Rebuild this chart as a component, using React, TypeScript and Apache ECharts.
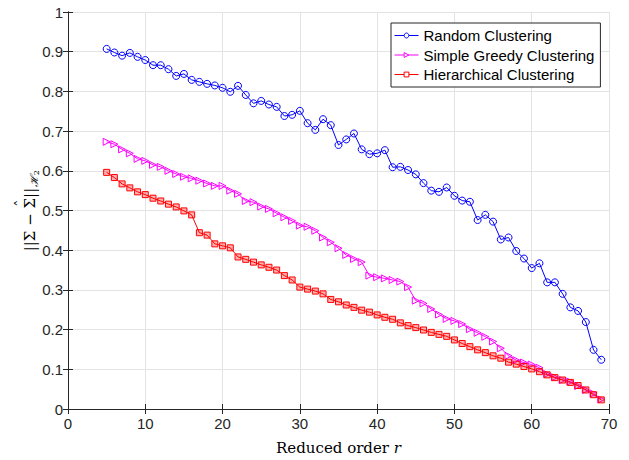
import React, { useEffect, useRef } from "react";
import * as echarts from "echarts";

const orders: number[] = [];
for (let r = 5; r <= 69; r++) orders.push(r);

const randomVals = [
  0.907, 0.898, 0.890, 0.897, 0.887, 0.879, 0.866, 0.866, 0.856, 0.839,
  0.844, 0.829, 0.824, 0.819, 0.815, 0.809, 0.799, 0.814, 0.791, 0.770,
  0.776, 0.767, 0.761, 0.738, 0.741, 0.751, 0.720, 0.703, 0.730, 0.715,
  0.665, 0.679, 0.694, 0.654, 0.642, 0.644, 0.652, 0.609, 0.610, 0.602,
  0.591, 0.569, 0.550, 0.547, 0.558, 0.537, 0.525, 0.522, 0.476, 0.489,
  0.472, 0.427, 0.432, 0.398, 0.379, 0.355, 0.367, 0.319, 0.319, 0.290,
  0.256, 0.247, 0.219, 0.149, 0.124,
];

const greedyVals = [
  0.673, 0.667, 0.654, 0.644, 0.630, 0.625, 0.615, 0.610, 0.600, 0.592,
  0.585, 0.581, 0.575, 0.568, 0.562, 0.562, 0.550, 0.542, 0.524, 0.521,
  0.510, 0.504, 0.493, 0.483, 0.474, 0.462, 0.459, 0.449, 0.432, 0.420,
  0.405, 0.388, 0.378, 0.370, 0.336, 0.332, 0.329, 0.325, 0.321, 0.307,
  0.273, 0.266, 0.252, 0.238, 0.227, 0.222, 0.214, 0.201, 0.192, 0.182,
  0.170, 0.153, 0.134, 0.123, 0.117, 0.112, 0.104, 0.088, 0.080, 0.073,
  0.069, 0.058, 0.048, 0.039, 0.024,
];

const hierVals = [
  0.596, 0.583, 0.567, 0.557, 0.547, 0.540, 0.531, 0.524, 0.516, 0.509,
  0.499, 0.489, 0.444, 0.438, 0.416, 0.411, 0.406, 0.383, 0.377, 0.370,
  0.363, 0.357, 0.350, 0.336, 0.325, 0.307, 0.302, 0.297, 0.290, 0.276,
  0.270, 0.262, 0.256, 0.249, 0.244, 0.237, 0.231, 0.226, 0.217, 0.210,
  0.205, 0.199, 0.193, 0.188, 0.183, 0.174, 0.165, 0.157, 0.149, 0.142,
  0.134, 0.128, 0.118, 0.113, 0.107, 0.101, 0.094, 0.086, 0.079, 0.073,
  0.067, 0.059, 0.048, 0.036, 0.023,
];

const seriesNames = ["Random Clustering", "Simple Greedy Clustering", "Hierarchical Clustering"];

const SANS = "'Liberation Sans', Arial, Helvetica, sans-serif";
const SERIF = "'DejaVu Serif', 'Liberation Serif', serif";
const AXIS_COLOR = "#262626";
const GRID_COLOR = "#e3e3e3";

const BLUE = "#0000ff";
const MAGENTA = "#ff00ff";
const RED = "#ff0000";
const RED_FILL = "rgba(255,0,0,0.3)";

function measure(text: string, font: string): number {
  const c = document.createElement("canvas").getContext("2d");
  if (!c) return text.length * 8;
  c.font = font;
  return c.measureText(text).width;
}

function yLabelGraphic() {
  const mainSize = 15;
  const mainFont = `${mainSize}px ${SERIF}`;
  const p1 = "||Σ − ";
  const p2 = "Σ";
  const p3 = "||";
  const sub1 = "ℋ";
  const sub2 = "2";
  const w1 = measure(p1, mainFont);
  const w2 = measure(p2, mainFont);
  const w3 = measure(p3, mainFont);
  const ws1 = measure(sub1, `italic 11px ${SERIF}`);
  const ws2 = measure(sub2, `8px ${SERIF}`);
  const total = w1 + w2 + w3 + ws1 + ws2;
  const x0 = -total / 2;
  const base = { fill: "#000", verticalAlign: "middle", align: "left" };
  return {
    type: "group",
    x: 30,
    y: 211,
    rotation: Math.PI / 2,
    silent: true,
    children: [
      { type: "text", x: x0, y: 0, style: { ...base, text: p1 + p2 + p3, font: mainFont } },
      {
        type: "text",
        x: x0 + w1 + w2 / 2,
        y: -9,
        style: { ...base, align: "center", text: "ˆ", font: `${mainSize}px ${SERIF}` },
      },
      {
        type: "text",
        x: x0 + w1 + w2 + w3 + 0.5,
        y: 4,
        style: { ...base, text: sub1, font: `italic 11px ${SERIF}` },
      },
      {
        type: "text",
        x: x0 + w1 + w2 + w3 + ws1 + 0.5,
        y: 6.5,
        style: { ...base, text: sub2, font: `8px ${SERIF}` },
      },
    ],
  };
}

export default function App() {
  const ref = useRef<HTMLDivElement>(null);

  useEffect(() => {
    if (!ref.current) return;
    const chart = echarts.init(ref.current, undefined, { renderer: "svg" });

    const pair = (vals: number[]) => orders.map((r, i) => [r, vals[i]]);

    const baseAxis = {
      axisLine: { show: true, lineStyle: { color: AXIS_COLOR, width: 1 } },
      axisTick: { show: true, inside: true, length: 5, lineStyle: { color: AXIS_COLOR } },
    };

    chart.setOption({
      animation: false,
      backgroundColor: "#ffffff",
      grid: { left: 68, right: 20, top: 12, bottom: 51, containLabel: false },
      legend: {
        orient: "vertical",
        left: 391,
        top: 23,
        width: 207,
        padding: [5, 6, 5, 3],
        itemGap: 4.5,
        itemWidth: 24,
        itemHeight: 6,
        backgroundColor: "#ffffff",
        borderColor: AXIS_COLOR,
        borderWidth: 1,
        borderRadius: 0,
        itemStyle: { color: "#ffffff", borderWidth: 1, borderColor: "inherit" },
        lineStyle: { width: 1, color: "inherit" },
        textStyle: { fontFamily: SANS, fontSize: 15, lineHeight: 15, color: "#000", padding: [0, 0, 0, 0] },
        data: seriesNames,
      },
      graphic: [yLabelGraphic()],
      xAxis: [
        {
          ...baseAxis,
          type: "value",
          min: 0,
          max: 70,
          interval: 10,
          name: "{a|Reduced order }{i|r}",
          nameLocation: "middle",
          nameGap: 31,
          nameTextStyle: {
            rich: {
              a: { fontFamily: SERIF, fontSize: 15, color: "#000" },
              i: { fontFamily: SERIF, fontSize: 15, fontStyle: "italic", color: "#000" },
            },
          },
          axisLabel: { fontFamily: SANS, fontSize: 15, color: AXIS_COLOR, margin: 7 },
          splitLine: { show: true, lineStyle: { color: GRID_COLOR, width: 1 } },
        },
        {
          ...baseAxis,
          type: "value",
          position: "top",
          min: 0,
          max: 70,
          interval: 10,
          axisLabel: { show: false },
          splitLine: { show: false },
        },
      ],
      yAxis: [
        {
          ...baseAxis,
          type: "value",
          min: 0,
          max: 1,
          interval: 0.1,
          axisLabel: {
            fontFamily: SANS,
            fontSize: 15,
            color: AXIS_COLOR,
            margin: 5,
            formatter: (v: number) => (Math.abs(v) < 1e-9 ? "0" : Math.abs(v - 1) < 1e-9 ? "1" : v.toFixed(1)),
          },
          splitLine: { show: true, lineStyle: { color: GRID_COLOR, width: 1 } },
        },
        {
          ...baseAxis,
          type: "value",
          position: "right",
          min: 0,
          max: 1,
          interval: 0.1,
          axisLabel: { show: false },
          splitLine: { show: false },
        },
      ],
      series: [
        {
          name: seriesNames[0],
          type: "line",
          data: pair(randomVals),
          symbol: "circle",
          symbolSize: 7,
          showAllSymbol: true,
          color: BLUE,
          lineStyle: { color: BLUE, width: 1 },
          itemStyle: { color: "rgba(255,255,255,0)", borderColor: BLUE, borderWidth: 1 },
          emphasis: { disabled: true },
        },
        {
          name: seriesNames[1],
          type: "line",
          data: pair(greedyVals),
          symbol: "triangle",
          symbolRotate: -90,
          symbolSize: 7,
          showAllSymbol: true,
          color: MAGENTA,
          lineStyle: { color: MAGENTA, width: 1 },
          itemStyle: { color: "rgba(255,255,255,0)", borderColor: MAGENTA, borderWidth: 1 },
          emphasis: { disabled: true },
        },
        {
          name: seriesNames[2],
          type: "line",
          data: pair(hierVals),
          symbol: "rect",
          symbolSize: 6,
          showAllSymbol: true,
          color: RED,
          lineStyle: { color: RED, width: 1 },
          itemStyle: { color: RED_FILL, borderColor: RED, borderWidth: 1 },
          emphasis: { disabled: true },
        },
      ],
    });

    return () => chart.dispose();
  }, []);

  return (
    <div
      ref={ref}
      style={{ position: "fixed", left: 0, top: 0, width: 629, height: 460, background: "#fff" }}
    />
  );
}
